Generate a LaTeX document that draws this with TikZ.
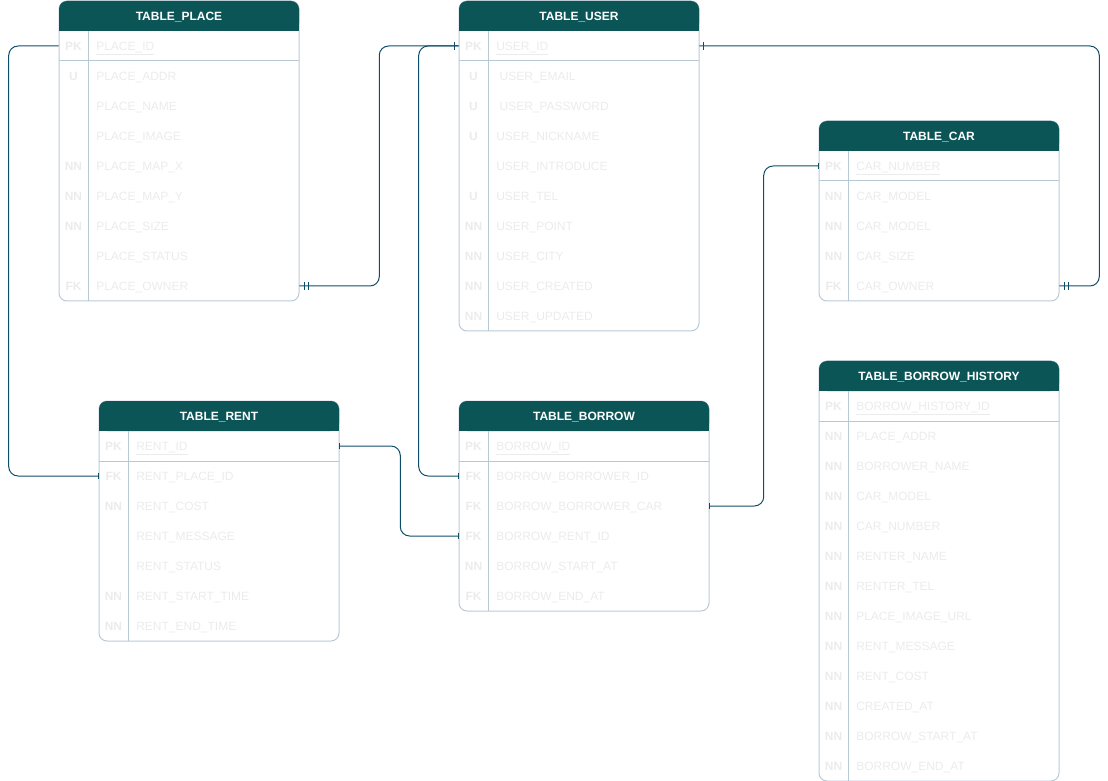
\documentclass[tikz,border=0pt]{standalone}
\usepackage{fontspec}
\setmainfont{Liberation Sans}
\usetikzlibrary{arrows.meta,decorations.markings}
\definecolor{headteal}{HTML}{0B5557}
\definecolor{gridblue}{HTML}{B8C9D6}
\definecolor{linkblue}{HTML}{0E4D69}
\definecolor{faint}{HTML}{EBEBEB}

% one ER table: name, x, y, width, rows, title, key/field list
\newcommand{\ertable}[7]{%
  \draw[tablegrid, rounded corners=6pt] (#2,#3) rectangle (#2+#4,#3+30+30*#5);
  \fill[headteal, rounded corners=6pt] (#2,#3) rectangle (#2+#4,#3+30);
  \fill[headteal] (#2,#3+15) rectangle (#2+#4,#3+30);
  \draw[tablegrid] (#2,#3+60) -- (#2+#4,#3+60);
  \draw[tablegrid] (#2+29,#3+30) -- (#2+29,#3+30+30*#5);
  \node[tabletitle] (#1) at (#2+#4/2,#3+15) {#6};
  \foreach \rkey/\rname [count=\i] in {#7} {
    \node[rowcell, minimum width=#4*0.75pt] (#1-\i) at (#2+#4/2,#3+15+30*\i) {};
    \node[keycell] (#1-k\i) at (#2+14.5,#3+15+30*\i) {\rkey};
    \node[fieldcell] (#1-f\i) at (#2+37,#3+15+30*\i) {\rname};
  }
}

\begin{document}
\begin{tikzpicture}[x=0.75pt,y=-0.75pt]
  \tikzstyle{tablegrid}=[draw=gridblue, line width=0.75pt]
  \tikzstyle{tabletitle}=[text=white, font=\fontsize{9}{10}\selectfont\bfseries, inner sep=0pt, text height=6.5pt, text depth=0pt]
  \tikzstyle{rowcell}=[inner sep=0pt, minimum height=22.5pt]
  \tikzstyle{keycell}=[text=faint, font=\fontsize{9}{10}\selectfont\bfseries, inner sep=0pt, text height=6.5pt, text depth=0pt]
  \tikzstyle{fieldcell}=[anchor=west, text=faint, font=\fontsize{9}{10}\selectfont, inner sep=0pt, text height=6.5pt, text depth=0pt]
  \tikzstyle{link}=[draw=linkblue, line width=0.75pt, rounded corners=7pt]
  \tikzstyle{tick}=[Bar[width=5pt]]
  \tikzstyle{onestart}=[postaction={decorate, decoration={markings, mark=at position 3.5pt with {\draw[linkblue, line width=0.75pt] (0,-3pt) -- (0,3pt);}}}]
  \tikzstyle{oneend}=[postaction={decorate, decoration={markings, mark=at position -3.5pt with {\draw[linkblue, line width=0.75pt] (0,-3pt) -- (0,3pt);}}}]
  \tikzstyle{mandstart}=[postaction={decorate, decoration={markings,
      mark=at position 3.75pt with {\draw[linkblue, line width=0.75pt] (0,-3pt) -- (0,3pt);},
      mark=at position 6.75pt with {\draw[linkblue, line width=0.75pt] (0,-3pt) -- (0,3pt);}}}]
  \tikzstyle{mandend}=[postaction={decorate, decoration={markings,
      mark=at position -3.75pt with {\draw[linkblue, line width=0.75pt] (0,-3pt) -- (0,3pt);},
      mark=at position -6.75pt with {\draw[linkblue, line width=0.75pt] (0,-3pt) -- (0,3pt);}}}]

  \useasboundingbox (0,0) rectangle (1108,781);

  \ertable{place}{59}{1}{240}{9}{TABLE\_PLACE}{PK/\underline{PLACE\_ID}, U/PLACE\_ADDR, {}/PLACE\_NAME, {}/PLACE\_IMAGE, NN/PLACE\_MAP\_X, NN/PLACE\_MAP\_Y, NN/PLACE\_SIZE, {}/PLACE\_STATUS, FK/PLACE\_OWNER}
  \ertable{user}{459}{1}{240}{10}{TABLE\_USER}{PK/\underline{USER\_ID}, U/\hspace{2.5pt}USER\_EMAIL, U/\hspace{2.5pt}USER\_PASSWORD, U/USER\_NICKNAME, {}/USER\_INTRODUCE, U/USER\_TEL, NN/USER\_POINT, NN/USER\_CITY, NN/USER\_CREATED, NN/USER\_UPDATED}
  \ertable{car}{819}{121}{240}{5}{TABLE\_CAR}{PK/\underline{CAR\_NUMBER}, NN/CAR\_MODEL, NN/CAR\_MODEL, NN/CAR\_SIZE, FK/CAR\_OWNER}
  \ertable{history}{819}{361}{240}{13}{TABLE\_BORROW\_HISTORY}{PK/\underline{BORROW\_HISTORY\_ID}, NN/PLACE\_ADDR, NN/BORROWER\_NAME, NN/CAR\_MODEL, NN/CAR\_NUMBER, NN/RENTER\_NAME, NN/RENTER\_TEL, NN/PLACE\_IMAGE\_URL, NN/RENT\_MESSAGE, NN/RENT\_COST, NN/CREATED\_AT, NN/BORROW\_START\_AT, NN/BORROW\_END\_AT}
  \ertable{rent}{99}{401}{240}{7}{TABLE\_RENT}{PK/\underline{RENT\_ID}, FK/RENT\_PLACE\_ID, NN/RENT\_COST, {}/RENT\_MESSAGE, {}/RENT\_STATUS, NN/RENT\_START\_TIME, NN/RENT\_END\_TIME}
  \ertable{borrow}{459}{401}{250}{6}{TABLE\_BORROW}{PK/\underline{BORROW\_ID}, FK/BORROW\_BORROWER\_ID, FK/BORROW\_BORROWER\_CAR, FK/BORROW\_RENT\_ID, NN/BORROW\_START\_AT, FK/BORROW\_END\_AT}

  % relations
  \draw[link, -{Bar[width=5pt]}] (place-1.west) -- ++(-50,0) |- (rent-2.west);
  \draw[link, mandstart, oneend] (place-9.east) -- ++(80,0) |- (user-1.west);
  \draw[link, onestart, mandend] (user-1.east) -- ++(400,0) |- (car-5.east);
  \draw[link, -{Bar[width=5pt]}] (user-1.west) -- ++(-40,0) |- (borrow-2.west);
  \draw[link, {Bar[width=5pt]}-{Bar[width=5pt]}] (rent-1.east) -- ++(61,0) |- (borrow-4.west);
  \draw[link, {Bar[width=5pt]}-{Bar[width=5pt]}] (car-1.west) -- ++(-55,0) |- (borrow-3.east);
\end{tikzpicture}
\end{document}
